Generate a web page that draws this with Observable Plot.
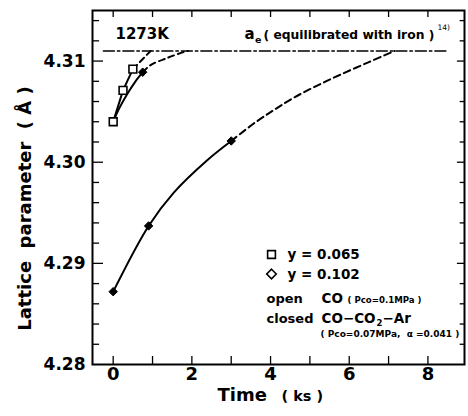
<!DOCTYPE html>
<html>
<head>
<meta charset="utf-8">
<script src="https://cdn.jsdelivr.net/npm/d3@7"></script>
<script src="https://cdn.jsdelivr.net/npm/@observablehq/plot@0.6"></script>
<style>
  html, body { margin: 0; padding: 0; background: white; }
</style>
</head>
<body>
<div id="chart"></div>
<script>
// ---- data (time in ks, lattice parameter in Å) ----
const xTicks = [0, 2, 4, 6, 8];
const yTicks = [4.28, 4.29, 4.30, 4.31];
const xMinorTicks = [0, 1, 2, 3, 4, 5, 6, 7, 8];
const yMinorTicks = [4.282, 4.284, 4.286, 4.288, 4.29, 4.292, 4.294, 4.296, 4.298, 4.30,
                     4.302, 4.304, 4.306, 4.308, 4.31, 4.312, 4.314];

// open squares, y = 0.065
const sqTime = [0, 0.25, 0.5];
const sqLattice = [4.304, 4.3071, 4.3092];
const sqDashTime = [0.5, 0.95];
const sqDashLattice = [4.3092, 4.311];

// upper closed curve
const upSolidTime = [0, 0.15, 0.35, 0.55, 0.75];
const upSolidLattice = [4.304, 4.3053, 4.3067, 4.3079, 4.3089];
const upDashTime = [0.75, 0.95, 1.37, 1.8, 1.9];
const upDashLattice = [4.3089, 4.3096, 4.3103, 4.3109, 4.311];

// lower curve, y = 0.102
const lowSolidTime = [0, 0.9, 1.54, 2.39, 3.0];
const lowSolidLattice = [4.2872, 4.2937, 4.2970, 4.3002, 4.3021];
const lowDashTime = [3.0, 3.6, 4.1, 4.6, 5.2, 5.8, 6.5, 7.15];
const lowDashLattice = [4.3021, 4.3039, 4.3052, 4.3064, 4.3076, 4.3087, 4.3099, 4.311];

// filled diamonds
const dmTime = [0, 0.9, 3.0, 0.75];
const dmLattice = [4.2872, 4.2937, 4.3021, 4.3089];

// equilibrium line a_e
const eqTime = [-0.25, 8.5];
const eqLattice = [4.311, 4.311];

const legendLabels = ["y = 0.065", "y = 0.102"];

const pts = (xs, ys) => xs.map((x, i) => ({x, y: ys[i]}));

const xMin = -0.526, xMax = 8.93, yMin = 4.28, yMax = 4.315;
const isMajor = d => yTicks.some(t => Math.abs(t - d) < 1e-9);

const chart = Plot.plot({
  width: 468,
  height: 416,
  marginLeft: 92,
  marginRight: 4,
  marginTop: 10,
  marginBottom: 52,
  x: {domain: [xMin, xMax]},
  y: {domain: [yMin, yMax]},
  style: {fontFamily: "DejaVu Sans", fontWeight: "bold", background: "white", color: "black"},
  marks: [
    // inward ticks
    Plot.ruleX(xMinorTicks, {x: d => d, y1: yMin, y2: yMin + 0.00079, stroke: "black", strokeWidth: 1.3}),
    Plot.ruleX(xMinorTicks, {x: d => d, y1: yMax, y2: yMax - 0.00069, stroke: "black", strokeWidth: 1.3}),
    Plot.ruleY(yMinorTicks, {y: d => d, x1: xMin, x2: d => xMin + (isMajor(d) ? 0.28 : 0.18), stroke: "black", strokeWidth: 1.3}),
    Plot.ruleY(yMinorTicks, {y: d => d, x1: xMax, x2: d => xMax - (isMajor(d) ? 0.18 : 0.11), stroke: "black", strokeWidth: 1.3}),
    Plot.frame({stroke: "black", strokeWidth: 2}),
    Plot.axisY({ticks: yTicks, tickSize: 0, tickPadding: 7, tickFormat: d => d.toFixed(2), fontSize: 17, label: null}),
    Plot.axisX({ticks: xTicks, tickSize: 0, tickPadding: 3, tickFormat: d => String(d), fontSize: 18, label: null}),

    // equilibrium line
    Plot.line(pts(eqTime, eqLattice), {x: "x", y: "y", stroke: "black", strokeWidth: 1.5, strokeDasharray: "11,3,2.5,3"}),

    // curves
    Plot.line(pts(sqTime, sqLattice), {x: "x", y: "y", stroke: "black", strokeWidth: 2}),
    Plot.line(pts(sqDashTime, sqDashLattice), {x: "x", y: "y", stroke: "black", strokeWidth: 2, strokeDasharray: "6,4"}),
    Plot.line(pts(upSolidTime, upSolidLattice), {x: "x", y: "y", curve: "catmull-rom", stroke: "black", strokeWidth: 2}),
    Plot.line(pts(upDashTime, upDashLattice), {x: "x", y: "y", curve: "catmull-rom", stroke: "black", strokeWidth: 2, strokeDasharray: "6,4"}),
    Plot.line(pts(lowSolidTime, lowSolidLattice), {x: "x", y: "y", curve: "catmull-rom", stroke: "black", strokeWidth: 2}),
    Plot.line(pts(lowDashTime, lowDashLattice), {x: "x", y: "y", curve: "catmull-rom", stroke: "black", strokeWidth: 2, strokeDasharray: "7,4"}),

    // markers
    Plot.dot(pts(dmTime, dmLattice), {x: "x", y: "y", symbol: "diamond2", r: 3.8, fill: "black", stroke: "black", strokeWidth: 1}),
    Plot.dot(pts(sqTime, sqLattice), {x: "x", y: "y", symbol: "square", r: 4.4, fill: "white", stroke: "black", strokeWidth: 1.6}),

    // annotations
    Plot.text(["1273K"], {text: d => d, frameAnchor: "top-left", dx: 23, dy: 28, textAnchor: "start", lineAnchor: "bottom", fontSize: 15}),
    Plot.text(["a"], {text: d => d, frameAnchor: "top-left", dx: 152, dy: 28, textAnchor: "start", lineAnchor: "bottom", fontSize: 15}),
    Plot.text(["e"], {text: d => d, frameAnchor: "top-left", dx: 162.5, dy: 32, textAnchor: "start", lineAnchor: "bottom", fontSize: 9.5}),
    Plot.text(["( equilibrated with iron )"], {text: d => d, frameAnchor: "top-left", dx: 171, dy: 28, textAnchor: "start", lineAnchor: "bottom", fontSize: 12.3}),
    Plot.text(["14)"], {text: d => d, frameAnchor: "top-left", dx: 345, dy: 19, textAnchor: "start", lineAnchor: "bottom", fontSize: 7.5, fontWeight: "normal"}),

    // legend
    Plot.dot([0], {frameAnchor: "top-left", dx: 179, dy: 244, symbol: "square", r: 4.4, fill: "white", stroke: "black", strokeWidth: 1.6}),
    Plot.dot([0], {frameAnchor: "top-left", dx: 179, dy: 263.5, symbol: "diamond2", r: 4.3, fill: "white", stroke: "black", strokeWidth: 1.6}),
    Plot.text([legendLabels[0]], {text: d => d, frameAnchor: "top-left", dx: 195, dy: 248.5, textAnchor: "start", lineAnchor: "bottom", fontSize: 13.5}),
    Plot.text([legendLabels[1]], {text: d => d, frameAnchor: "top-left", dx: 195, dy: 268, textAnchor: "start", lineAnchor: "bottom", fontSize: 13.5}),
    Plot.text(["open"], {text: d => d, frameAnchor: "top-left", dx: 174, dy: 292, textAnchor: "start", lineAnchor: "bottom", fontSize: 13}),
    Plot.text(["CO"], {text: d => d, frameAnchor: "top-left", dx: 229, dy: 292, textAnchor: "start", lineAnchor: "bottom", fontSize: 13.5}),
    Plot.text(["( Pco=0.1MPa )"], {text: d => d, frameAnchor: "top-left", dx: 255, dy: 292, textAnchor: "start", lineAnchor: "bottom", fontSize: 8.6}),
    Plot.text(["closed"], {text: d => d, frameAnchor: "top-left", dx: 174, dy: 312, textAnchor: "start", lineAnchor: "bottom", fontSize: 13}),
    Plot.text(["CO\u2212CO"], {text: d => d, frameAnchor: "top-left", dx: 229, dy: 312, textAnchor: "start", lineAnchor: "bottom", fontSize: 13.5}),
    Plot.text(["2"], {text: d => d, frameAnchor: "top-left", dx: 284, dy: 315, textAnchor: "start", lineAnchor: "bottom", fontSize: 8.5}),
    Plot.text(["\u2212Ar"], {text: d => d, frameAnchor: "top-left", dx: 290, dy: 312, textAnchor: "start", lineAnchor: "bottom", fontSize: 13.5}),
    Plot.text(["( Pco=0.07MPa,  \u03b1 =0.041 )"], {text: d => d, frameAnchor: "top-left", dx: 228, dy: 326, textAnchor: "start", lineAnchor: "bottom", fontSize: 9}),

    // axis titles
    Plot.text(["Lattice\u00a0 parameter\u00a0 (\u00a0\u00c5\u00a0)"], {text: d => d, frameAnchor: "left", dx: -67, dy: 21, rotate: -90, textAnchor: "middle", lineAnchor: "middle", fontSize: 18}),
    Plot.text(["Time"], {text: d => d, frameAnchor: "bottom-left", dx: 125, dy: 36, textAnchor: "start", lineAnchor: "bottom", fontSize: 18}),
    Plot.text(["( ks )"], {text: d => d, frameAnchor: "bottom-left", dx: 189, dy: 36, textAnchor: "start", lineAnchor: "bottom", fontSize: 14.5})
  ]
});

document.getElementById("chart").appendChild(chart);
</script>
</body>
</html>
